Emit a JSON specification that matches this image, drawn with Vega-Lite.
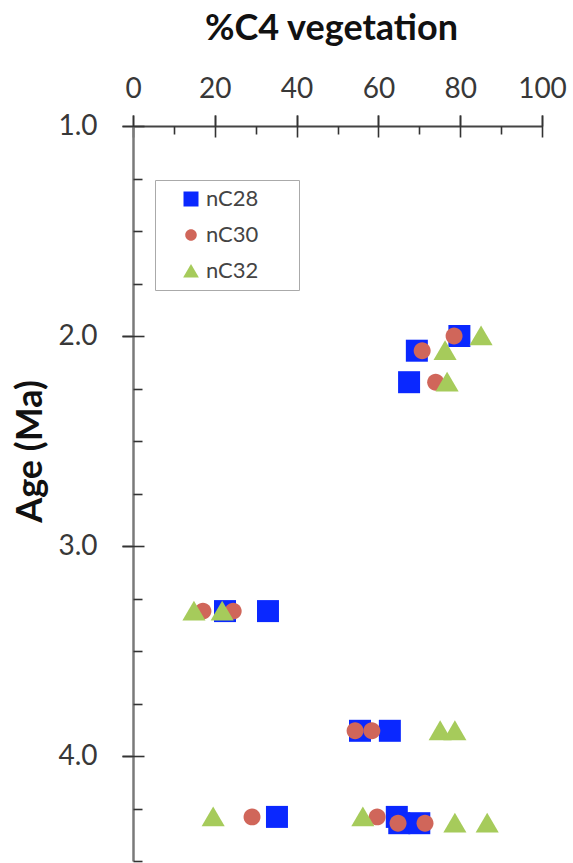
{
  "$schema": "https://vega.github.io/schema/vega-lite/v6.json",
  "width": 409,
  "height": 735,
  "autosize": "none",
  "padding": {"left": 133, "top": 126, "right": 31, "bottom": 2},
  "background": "white",
  "config": {
    "view": {"stroke": null},
    "axis": {"grid": false, "labelFont": "Lato", "titleFont": "Lato", "tickColor": "#333333", "tickWidth": 1.6, "labelColor": "#383838", "titleColor": "#111111"}
  },
  "data": {
    "values": [
      {"series": "nC28", "c4": 79.8, "age": 2.0},
      {"series": "nC28", "c4": 69.4, "age": 2.07},
      {"series": "nC28", "c4": 67.5, "age": 2.22},
      {"series": "nC28", "c4": 22.5, "age": 3.31},
      {"series": "nC28", "c4": 33.0, "age": 3.31},
      {"series": "nC28", "c4": 55.5, "age": 3.88},
      {"series": "nC28", "c4": 62.8, "age": 3.88},
      {"series": "nC28", "c4": 35.2, "age": 4.29},
      {"series": "nC28", "c4": 64.5, "age": 4.29},
      {"series": "nC28", "c4": 65.1, "age": 4.32},
      {"series": "nC28", "c4": 70.0, "age": 4.32},
      {"series": "nC30", "c4": 78.5, "age": 2.0},
      {"series": "nC30", "c4": 70.7, "age": 2.07},
      {"series": "nC30", "c4": 74.0, "age": 2.22},
      {"series": "nC30", "c4": 17.1, "age": 3.31},
      {"series": "nC30", "c4": 24.5, "age": 3.31},
      {"series": "nC30", "c4": 54.3, "age": 3.88},
      {"series": "nC30", "c4": 58.4, "age": 3.88},
      {"series": "nC30", "c4": 29.1, "age": 4.29},
      {"series": "nC30", "c4": 59.7, "age": 4.29},
      {"series": "nC30", "c4": 64.8, "age": 4.32},
      {"series": "nC30", "c4": 71.4, "age": 4.32},
      {"series": "nC32", "c4": 85.1, "age": 2.0},
      {"series": "nC32", "c4": 76.3, "age": 2.07},
      {"series": "nC32", "c4": 76.8, "age": 2.22},
      {"series": "nC32", "c4": 14.9, "age": 3.31},
      {"series": "nC32", "c4": 21.8, "age": 3.31},
      {"series": "nC32", "c4": 75.1, "age": 3.88},
      {"series": "nC32", "c4": 78.7, "age": 3.88},
      {"series": "nC32", "c4": 19.6, "age": 4.29},
      {"series": "nC32", "c4": 56.2, "age": 4.29},
      {"series": "nC32", "c4": 78.7, "age": 4.32},
      {"series": "nC32", "c4": 86.6, "age": 4.32}
    ]
  },
  "resolve": {"axis": {"x": "independent", "y": "independent"}},
  "layer": [
    {
      "mark": {"type": "point", "filled": true, "opacity": 1, "size": 484},
      "encoding": {
        "x": {
          "field": "c4", "type": "quantitative",
          "scale": {"domain": [0, 100], "nice": false, "zero": false},
          "axis": {
            "orient": "top", "values": [0, 20, 40, 60, 80, 100], "tickSize": 11, "labelPadding": 12,
            "labelFontSize": 28, "labelFlush": false, "labelOverlap": false,
            "domainColor": "#444444", "domainWidth": 2,
            "title": "%C4 vegetation", "titleFontSize": 36, "titleFontWeight": "bold",
            "titleX": 198, "titleY": -87, "titleBaseline": "alphabetic", "titleAlign": "center"
          }
        },
        "y": {
          "field": "age", "type": "quantitative",
          "scale": {"domain": [1, 4.5], "reverse": true, "nice": false, "zero": false},
          "axis": {
            "orient": "left", "values": [1, 2, 3, 4], "format": ".1f", "tickSize": 11, "labelPadding": 25,
            "labelFontSize": 28, "labelFlush": false, "labelOverlap": false,
            "domainColor": "#7a7a7a", "domainWidth": 2.5,
            "title": "Age (Ma)", "titleFontSize": 36, "titleFontWeight": "bold",
            "titleX": -92, "titleY": 325, "titleAngle": 270, "titleBaseline": "alphabetic", "titleAlign": "center"
          }
        },
        "color": {
          "field": "series", "type": "nominal",
          "scale": {"domain": ["nC28", "nC30", "nC32"], "range": ["#0A28FF", "#D0665A", "#A6CB5B"]},
          "legend": {
            "orient": "none", "legendX": 22, "legendY": 54, "title": null,
            "strokeColor": "#aaaaaa", "fillColor": "white", "padding": 8,
            "symbolOffset": 17, "labelOffset": 4, "rowPadding": 14, "symbolSize": 225,
            "labelFont": "Lato", "labelFontSize": 22, "labelColor": "#444444",
            "labelExpr": "datum.label + '\u2800\u2800'"
          }
        },
        "shape": {
          "field": "series", "type": "nominal",
          "scale": {"domain": ["nC28", "nC30", "nC32"], "range": ["square", "M0.77,0A0.77,0.77 0 1,1 -0.77,0A0.77,0.77 0 1,1 0.77,0Z", "M0,-0.95L1.05,0.85L-1.05,0.85Z"]}
        }
      }
    },
    {
      "mark": {"type": "point", "opacity": 0},
      "encoding": {
        "x": {
          "field": "c4", "type": "quantitative",
          "axis": {"orient": "top", "values": [0, 20, 40, 60, 80, 100], "offset": -11, "tickSize": 22, "labels": false, "domain": false, "title": null}
        },
        "y": {
          "field": "age", "type": "quantitative",
          "axis": {"orient": "left", "values": [1, 2, 3, 4], "offset": -11, "tickSize": 22, "labels": false, "domain": false, "title": null}
        }
      }
    },
    {
      "mark": {"type": "point", "opacity": 0},
      "encoding": {
        "x": {
          "field": "c4", "type": "quantitative",
          "axis": {"orient": "top", "values": [10, 30, 50, 70, 90], "offset": -8, "tickSize": 8, "labels": false, "domain": false, "title": null}
        },
        "y": {
          "field": "age", "type": "quantitative",
          "axis": {"orient": "left", "values": [1.25, 1.5, 1.75, 2.25, 2.5, 2.75, 3.25, 3.5, 3.75, 4.25, 4.5], "offset": -9, "tickSize": 9, "labels": false, "domain": false, "title": null}
        }
      }
    }
  ]
}
